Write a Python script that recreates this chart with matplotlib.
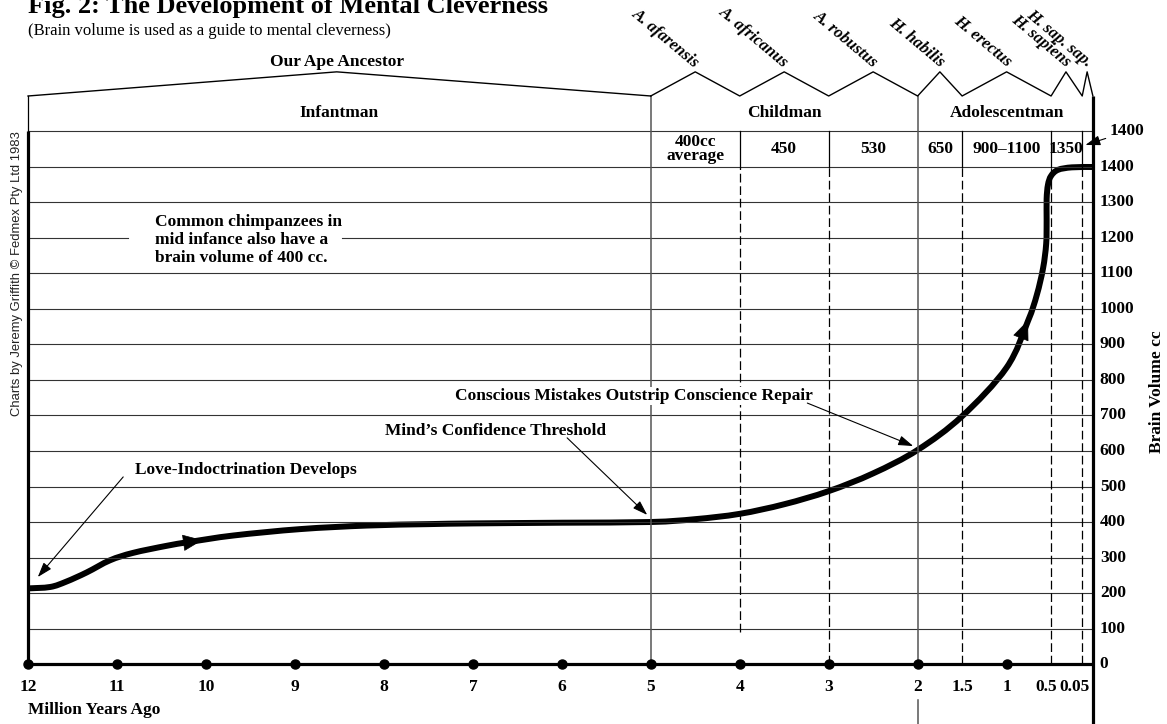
import numpy as np
import matplotlib.pyplot as plt
from matplotlib.path import Path
from matplotlib.patches import PathPatch

plt.rcParams['font.family'] = ['Liberation Serif', 'DejaVu Serif']

# brain volume curve (million years ago -> cc)
curve_mya = [12.0, 11.75, 11.57, 11.34, 11.08, 10.82, 10.44, 10.18, 9.69, 8.94, 8.19, 7.5, 7.0, 6.0, 5.0,
             4.5, 4.0, 3.5, 3.0, 2.5, 2.0, 1.5, 1.0, 0.76, 0.66, 0.59, 0.555, 0.55, 0.55, 0.535, 0.5,
             0.4, 0.2, 0.0]
curve_cc = [213, 217, 232, 258, 292, 313, 333, 344, 362, 380, 390, 394, 396, 398, 400,
            408, 423, 450, 487, 537, 603, 698, 835, 966, 1040, 1115, 1184, 1250, 1310, 1350, 1375,
            1392, 1399, 1400]

tick_mya = [12, 11, 10, 9, 8, 7, 6, 5, 4, 3, 2, 1.5, 1, 0.5, 0.05]
tick_labels = ['12', '11', '10', '9', '8', '7', '6', '5', '4', '3', '2', '1.5', '1', '0.5', '0.05']
dot_mya = [12, 11, 10, 9, 8, 7, 6, 5, 4, 3, 2, 1]
cc_ticks = list(range(0, 1500, 100))
grid_cc = list(range(100, 1600, 100))   # 1500 = top of the volume row

stage_names = ['Infantman', 'Childman', 'Adolescentman']
stage_mya = [8.5, 3.5, 1.0]
species = ['A. afarensis', 'A. africanus', 'A. robustus', 'H. habilis', 'H. erectus',
           'H. sapiens', 'H. sap. sap.']
species_mya = [4.5, 3.5, 2.5, 1.75, 1.0, 0.285, 0.027]
species_bounds = [5, 4, 3, 2, 1.5, 0.5, 0.05, 0]
volume_labels = ['400cc\naverage', '450', '530', '650', '900\u20131100', '1350']
volume_mya = [4.5, 3.5, 2.5, 1.75, 1.0, 0.285]
dashed_mya = [4, 3, 1.5, 0.5, 0.05]
dashed_bottom = [90, 0, 0, 0, 0]

# piecewise time axis: linear down to 0.5, squeezed after that
knot_mya = [-5, 0, 0.05, 0.5, 15]
knot_pos = [-16.97, -11.97, -11.85, -11.5, 3.0]


def fwd(m):
    return np.interp(m, knot_mya, knot_pos)


def inv(p):
    return np.interp(p, knot_pos, knot_mya)


fig = plt.figure(figsize=(11.67, 7.24), dpi=100)
ax = fig.add_axes([0, 0, 1, 1])
ax.set_xscale('function', functions=(fwd, inv))
ax.axis('off')

INK = 'black'
GRID = '#333333'
BOLD = dict(fontsize=12.5, fontweight='bold', color=INK)

# horizontal grid, 1200 line broken around the chimp note
chimp_gap = (10.88, 8.47)
for v in grid_cc:
    if v == 1200:
        ax.plot([12, chimp_gap[0]], [v, v], color=GRID, lw=0.8)
        ax.plot([chimp_gap[1], 0], [v, v], color=GRID, lw=0.8)
    else:
        ax.plot([12, 0], [v, v], color=GRID, lw=0.8)

# verticals
ax.plot([12, 12], [0, 1500], color=INK, lw=2.3, solid_capstyle='butt')
ax.plot([12, 12], [1500, 1600], color=INK, lw=0.9)
for b in [5, 2]:
    ax.plot([b, b], [0, 1600], color='#555555', lw=1.1)
ax.plot([2, 2], [-101, -169], color='#555555', lw=1.1)
for b, lo in zip(dashed_mya, dashed_bottom):
    ax.plot([b, b], [1400, 1500], color=INK, lw=0.9)
    ax.plot([b, b], [lo, 1400], color=INK, lw=0.9, ls=(0, (7, 3)))
ax.plot([0, 0], [-169, 1600], color=INK, lw=2.3, solid_capstyle='butt')

# time axis
ax.plot([12, 0], [0, 0], color=INK, lw=2.3, solid_capstyle='butt')
ax.plot(dot_mya, [0] * len(dot_mya), 'o', color=INK, ms=6.5)
label_shift = {'0.5': -3.5, '0.05': -5.5}
for m, lab in zip(tick_mya, tick_labels):
    ax.annotate(lab, (m, -65), xytext=(label_shift.get(lab, 0), 0), textcoords='offset points',
                ha='center', va='center', **BOLD)
ax.text(12, -130, 'Million Years Ago', ha='left', va='center', **BOLD)

# volume axis labels
for v in cc_ticks:
    ax.annotate(str(v), (0, v), xytext=(5, 0), textcoords='offset points',
                ha='left', va='center', **BOLD)
ax.annotate('1400', xy=(0.035, 1462), xytext=(-0.19, 1500), ha='left', va='center',
            arrowprops=dict(arrowstyle='-|>,head_length=0.9,head_width=0.3', mutation_scale=10,
                            color=INK, lw=0.8, shrinkA=1, shrinkB=0), **BOLD)
ax.text(-0.72, 766, 'Brain Volume cc', rotation=90, ha='center', va='center', **BOLD)

# top bands
ape_peak = 8.53
ax.plot([12, ape_peak, 5], [1600, 1668, 1600], color=INK, lw=1.0)
ax.text(ape_peak, 1696, 'Our Ape Ancestor', ha='center', va='center', **BOLD)
zig_x, zig_y = [], []
for b, p in zip(species_bounds, species_mya):
    zig_x += [b, p]
    zig_y += [1600, 1668]
zig_x.append(0)
zig_y.append(1600)
ax.plot(zig_x, zig_y, color=INK, lw=1.0)
for name, m in zip(species, species_mya):
    ax.annotate(name, (m, 1668), xytext=(-2, 1), textcoords='offset points', rotation=-40,
                rotation_mode='anchor', ha='right', va='bottom', fontstyle='italic',
                fontsize=12, fontweight='bold', color=INK)
for name, m in zip(stage_names, stage_mya):
    ax.text(m, 1552, name, ha='center', va='center', **BOLD)
for lab, m in zip(volume_labels, volume_mya):
    ax.text(m, 1450, lab, ha='center', va='center', linespacing=0.8, **BOLD)

# the curve, drawn as a smooth bezier through the read points (built in scale space)
pts = np.column_stack([fwd(np.array(curve_mya)), curve_cc])
ext = np.vstack([pts[0], pts, pts[-1]])
verts = [pts[0]]
codes = [Path.MOVETO]
for i in range(1, len(ext) - 2):
    c1 = ext[i] + (ext[i + 1] - ext[i - 1]) / 6
    c2 = ext[i + 1] - (ext[i + 2] - ext[i]) / 6
    verts += [c1, c2, ext[i + 1]]
    codes += [Path.CURVE4] * 3
verts = np.array(verts)
verts[:, 0] = inv(verts[:, 0])
ax.add_patch(PathPatch(Path(verts, codes), fill=False, ec=INK, lw=4.3,
                       joinstyle='round', capstyle='butt'))
head = dict(arrowstyle='-|>,head_length=1.3,head_width=0.55', mutation_scale=10,
            fc=INK, ec=INK, lw=0.5, shrinkA=0, shrinkB=0)
ax.annotate('', xy=(10.04, 349), xytext=(10.4, 336), arrowprops=head)
ax.annotate('', xy=(0.76, 968), xytext=(0.86, 905), arrowprops=head)

# notes
thin = dict(arrowstyle='-|>,head_length=0.9,head_width=0.3', mutation_scale=10,
            color=INK, lw=0.8, shrinkA=0, shrinkB=0)
ax.text(10.80, 546, 'Love-Indoctrination Develops', ha='left', va='center', **BOLD)
ax.annotate('', xy=(11.89, 245), xytext=(10.93, 527), arrowprops=thin)
ax.text(5.50, 656, 'Mind\u2019s Confidence Threshold', ha='right', va='center', **BOLD)
ax.annotate('', xy=(5.04, 420), xytext=(5.94, 637), arrowprops=thin)
ax.text(7.20, 755, 'Conscious Mistakes Outstrip Conscience Repair', ha='left', va='center',
        bbox=dict(fc='white', ec='none', pad=1), **BOLD)
ax.annotate('', xy=(2.05, 614), xytext=(3.24, 735), arrowprops=thin)
ax.text(10.57, 1194, 'Common chimpanzees in\nmid infance also have a\nbrain volume of 400 cc.',
        ha='left', va='center', linespacing=1.15, **BOLD)

# titles and credit
fig.text(28 / 1167, 1 - 13 / 724, 'Fig. 2: The Development of Mental Cleverness',
         ha='left', va='baseline', fontsize=19, fontweight='bold', color=INK)
fig.text(28 / 1167, 1 - 31 / 724, '(Brain volume is used as a guide to mental cleverness)',
         ha='left', va='center', fontsize=12, color=INK)
fig.text(17 / 1167, 1 - 274 / 724, 'Charts by Jeremy Griffith \u00a9 Fedmex Pty Ltd 1983',
         rotation=90, ha='center', va='center', fontsize=9.4, color='#222222',
         family=['Liberation Sans', 'DejaVu Sans'])

ax.set_xlim(12.315, -0.833)
ax.set_ylim(-169, 1870.4)
fig.savefig('out.png', dpi=100)
